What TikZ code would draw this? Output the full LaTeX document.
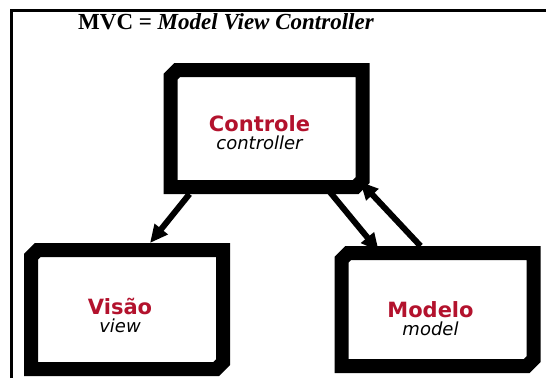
\documentclass[tikz,border=0pt]{standalone}
\usepackage{fontspec}
\setmainfont{Liberation Serif}
\newfontfamily\boxfont{DejaVu Sans}
\usepackage{tikz}
\usetikzlibrary{arrows.meta, shapes.misc}
\definecolor{LabelRed}{HTML}{B3122D}

\begin{document}
\begin{tikzpicture}[x=1pt, y=-1pt,
    mvcbox/.style={chamfered rectangle, chamfered rectangle corners={north west,south east}, chamfered rectangle sep=5pt, draw=black, line width=14pt, fill=white, minimum width=192pt},
    boxlabel/.style={align=center, font=\boxfont, inner sep=0pt},
    flow/.style={-{Triangle[length=18pt,width=16pt]}, line width=6pt}]
  \useasboundingbox (0,0) rectangle (546,378);
  % page frame
  \draw[line width=3pt] (11,378) |- (546,10);
  \node[anchor=base west, inner sep=0pt, font=\fontsize{23}{26}\selectfont] (title) at (78,29) {\textbf{MVC =} \textbf{\textit{Model View Controller}}};

  \node[mvcbox, minimum height=117pt] (ctrl) at (266.5,128.5) {};
  \node[mvcbox, minimum height=119pt] (view) at (127,309.5) {};
  \node[mvcbox, minimum height=113pt] (model) at (437.5,309.5) {};

  \node[boxlabel] (ctrltxt) at ([xshift=-7pt, yshift=-4pt]ctrl.center) {{\fontsize{21}{21}\selectfont\bfseries\color{LabelRed}Controle}\\[3pt]{\fontsize{18}{18}\selectfont\itshape controller}};
  \node[boxlabel] (viewtxt) at ([xshift=-7pt, yshift=-6pt]view.center) {{\fontsize{21}{21}\selectfont\bfseries\color{LabelRed}Visão}\\[3pt]{\fontsize{18}{18}\selectfont\itshape view}};
  \node[boxlabel] (modeltxt) at ([xshift=-7pt, yshift=-9pt]model.center) {{\fontsize{21}{21}\selectfont\bfseries\color{LabelRed}Modelo}\\[3pt]{\fontsize{18}{18}\selectfont\itshape model}};

  \draw[flow] ([xshift=26pt]ctrl.south west) -- ([xshift=23pt]view.north);
  \draw[flow] ([xshift=-37pt]ctrl.south east) -- ([xshift=39pt]model.north west);
  \draw[flow] ([xshift=-17pt]model.north) -- ([xshift=-4pt, yshift=7pt]ctrl.south east);
\end{tikzpicture}
\end{document}
